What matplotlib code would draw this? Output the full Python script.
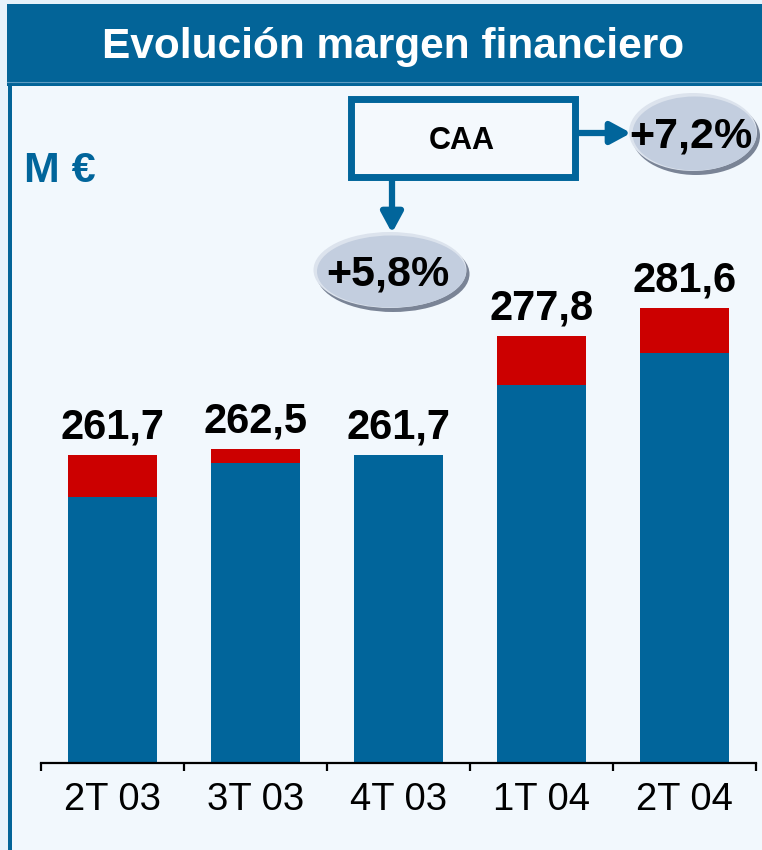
import matplotlib
matplotlib.use("Agg")
import matplotlib.pyplot as plt
from matplotlib.patches import Rectangle, Ellipse, FancyArrowPatch

plt.rcParams['font.family'] = ['Liberation Sans', 'DejaVu Sans']

# ---- data ----
categories = ["2T 03", "3T 03", "4T 03", "1T 04", "2T 04"]
totals = [261.7, 262.5, 261.7, 277.8, 281.6]
red_part = [5.6, 1.9, 0.0, 6.6, 6.0]
blue_part = [t - r for t, r in zip(totals, red_part)]
value_labels = ["261,7", "262,5", "261,7", "277,8", "281,6"]
title = "Evolución margen financiero"
unit_label = "M €"
box_label = "CAA"
growth_labels = ["+5,8%", "+7,2%"]

BLUE = "#01659B"
RED = "#CC0000"
BANNER = "#036498"
W, H = 762, 850

fig = plt.figure(figsize=(W / 100, H / 100), dpi=100)
fig.patch.set_facecolor("#E6F2FB")

# overlay axes in pixel coordinates for decoration
ov = fig.add_axes([0, 0, 1, 1])
ov.set_xlim(0, W)
ov.set_ylim(H, 0)
ov.axis("off")
ov.set_zorder(0)

# panel background
ov.add_patch(Rectangle((8, 80), W - 8, H - 80, facecolor="#F2F8FD", edgecolor="none"))
# left border
ov.add_patch(Rectangle((8, 80), 3.5, H - 80, facecolor=BANNER, edgecolor="none"))
# banner
ov.add_patch(Rectangle((7, 4), W - 7, 82, facecolor=BANNER, edgecolor="none"))
ov.plot([7, W], [81.5, 81.5], color="#5E9CC2", lw=0.8)
ov.text(393, 47, title, color="white", fontsize=30.5, fontweight="bold",
        ha="center", va="center")

# unit label
ov.text(24, 182, unit_label, color=BLUE, fontsize=31, fontweight="bold",
        ha="left", va="baseline")

# CAA box
ov.add_patch(Rectangle((350.5, 98.5), 224, 78, facecolor="#F4F9FD",
                       edgecolor=BLUE, lw=5.0))
ov.text(462, 141, box_label, color="black", fontsize=22, fontweight="bold",
        ha="center", va="center")

# arrows
ov.add_patch(FancyArrowPatch((578, 133), (631, 133), arrowstyle="-|>,head_length=12,head_width=6.5",
                             mutation_scale=1, color=BLUE, lw=4.5, shrinkA=0, shrinkB=0))
ov.add_patch(FancyArrowPatch((392, 180), (392, 233), arrowstyle="-|>,head_length=12,head_width=6.5",
                             mutation_scale=1, color=BLUE, lw=4.5, shrinkA=0, shrinkB=0))

# ellipses
def bubble(cx, cy, w, h, txt):
    ov.add_patch(Ellipse((cx + 2, cy + 3), w, h, facecolor="#7A8496", edgecolor="none"))
    ov.add_patch(Ellipse((cx - 1, cy - 1), w, h, facecolor="#DCE3ED", edgecolor="none"))
    ov.add_patch(Ellipse((cx + 0.5, cy + 0.5), w - 4, h - 4, facecolor="#C3CEDF", edgecolor="none"))
    ov.text(cx - 3, cy + 3, txt, color="black", fontsize=31, fontweight="bold",
            ha="center", va="center")

bubble(391, 271, 153, 76, growth_labels[0])
bubble(694, 133, 128, 78, growth_labels[1])

# ---- bar chart ----
ax = fig.add_axes([41 / W, (H - 763) / H, 715 / W, 663 / H])
ax.set_zorder(1)
ax.patch.set_alpha(0)
x = list(range(len(categories)))
ax.bar(x, blue_part, width=0.62, color=BLUE, bottom=0)
ax.bar(x, red_part, width=0.62, color=RED, bottom=blue_part)
ax.set_xlim(-0.5, len(categories) - 0.5)
ax.set_ylim(220, 220 + 663 / 7.38)

for xi, t, lab in zip(x, totals, value_labels):
    ax.annotate(lab, (xi, t), xytext=(0, 12), textcoords="offset points",
                ha="center", va="baseline", fontsize=30, fontweight="bold", color="black")

for s in ["top", "right", "left"]:
    ax.spines[s].set_visible(False)
ax.spines["bottom"].set_linewidth(1.6)
ax.spines["bottom"].set_color("black")
ax.set_yticks([])
ax.set_xticks(x)
ax.set_xticklabels(categories, fontsize=27.5)
ax.tick_params(axis="x", which="major", length=0, pad=14)
ax.set_xticks([i - 0.5 for i in range(len(categories) + 1)], minor=True)
ax.tick_params(axis="x", which="minor", length=6, width=1.6, direction="out")

fig.savefig("out.png", dpi=100, facecolor=fig.get_facecolor())
